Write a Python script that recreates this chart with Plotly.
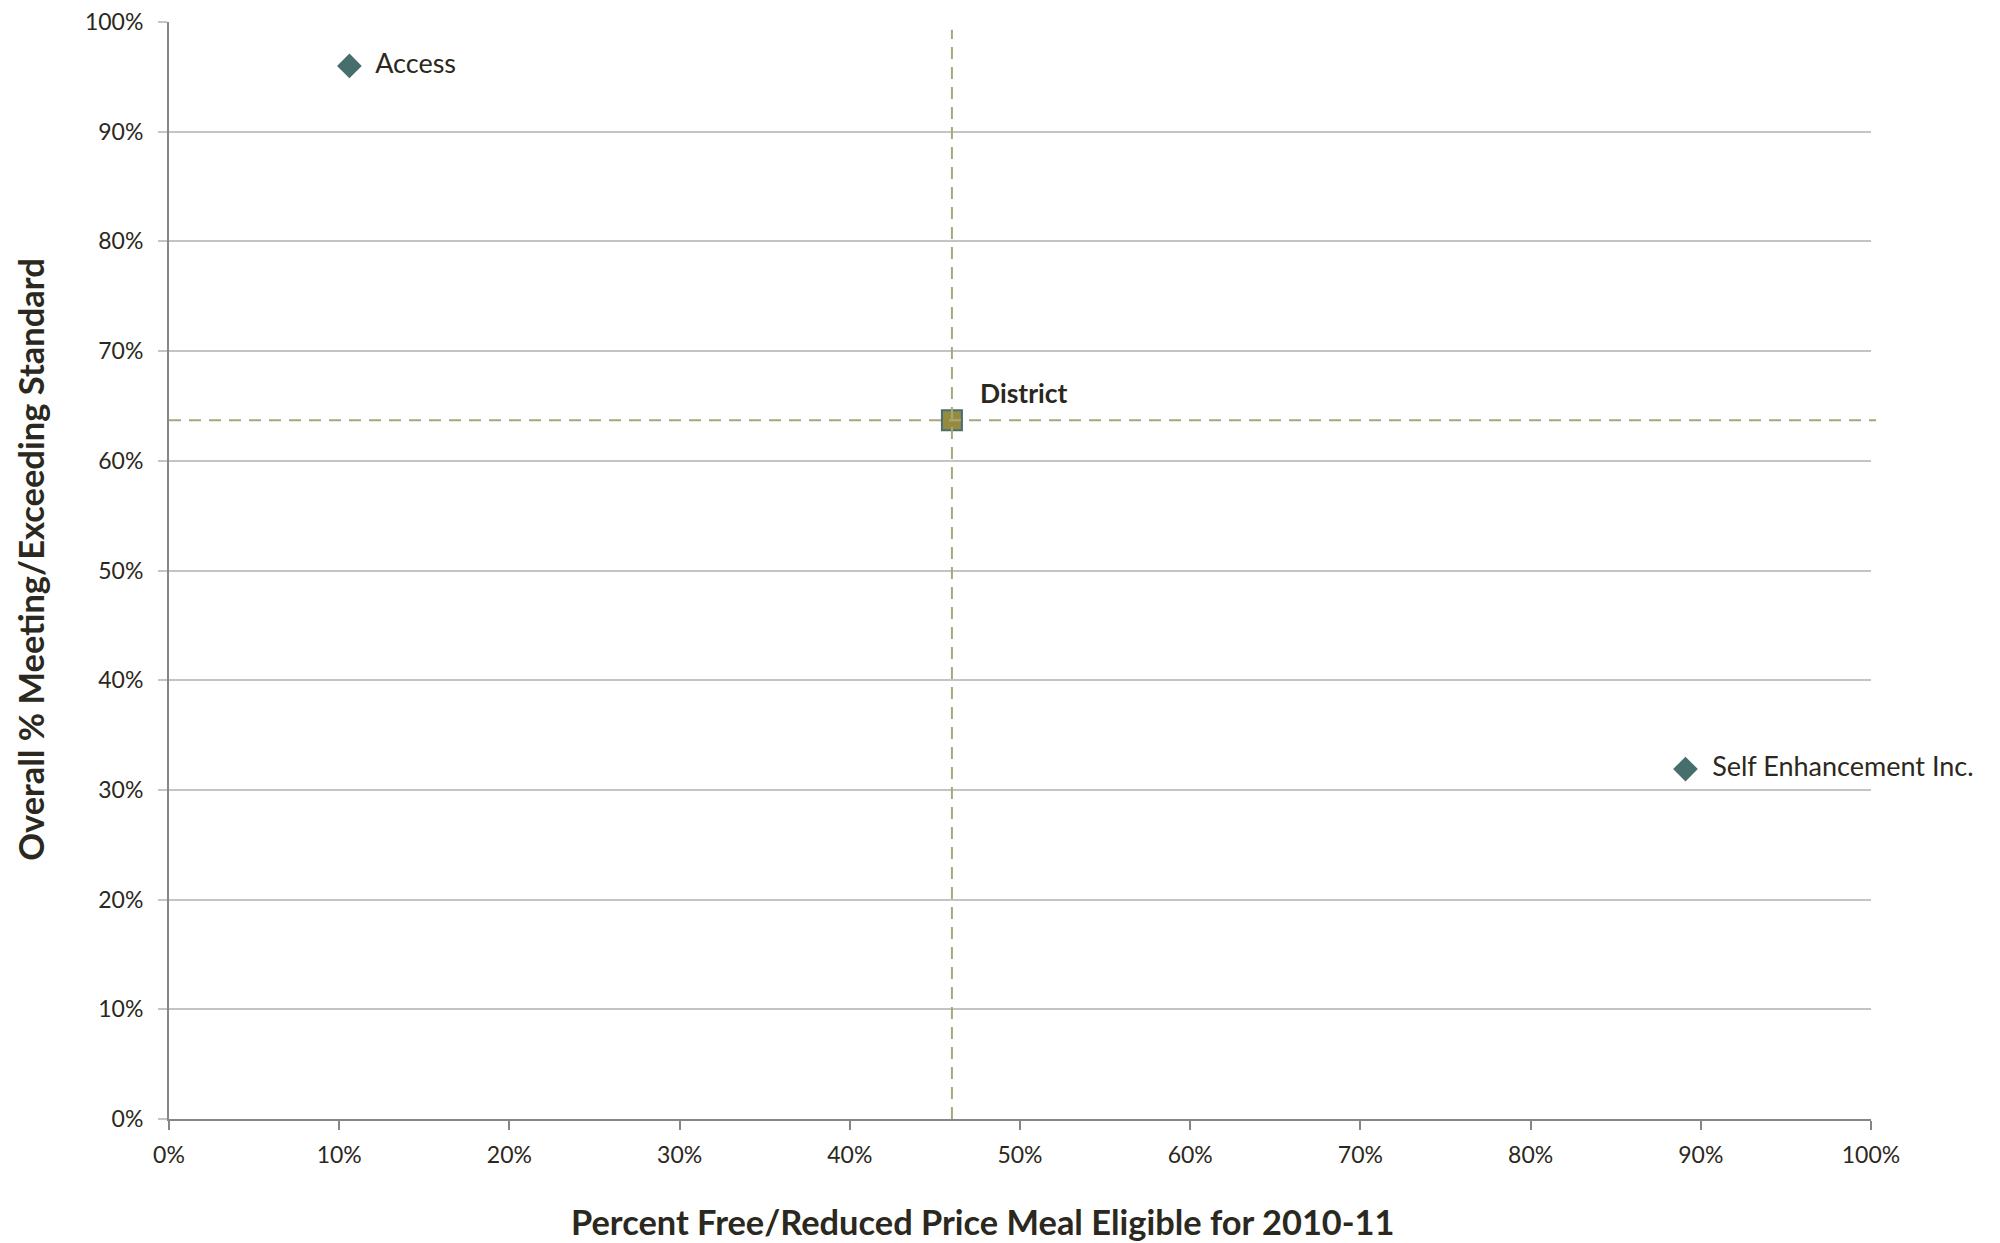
import plotly.graph_objects as go

# Data
school_names = ["Access", "Self Enhancement Inc."]
school_frl = [0.106, 0.891]
school_meet = [0.960, 0.319]

district_name = ["District"]
district_frl = [0.460]
district_meet = [0.637]

x_ticks = [i / 10 for i in range(11)]
y_ticks = [i / 10 for i in range(11)]

x_title = "Percent Free/Reduced Price Meal Eligible for 2010-11"
y_title = "Overall % Meeting/Exceeding Standard"

TEXT = "#2b2820"
FONT = "Lato, 'Open Sans', sans-serif"
DASH = "#aaa67c"

fig = go.Figure()

# reference lines through the district point
fig.add_shape(type="line", xref="x", yref="paper", x0=district_frl[0], x1=district_frl[0],
              y0=0, y1=0.993, line=dict(color=DASH, width=2, dash="12px,8px"), layer="above")
fig.add_shape(type="line", xref="paper", yref="y", x0=0, x1=1.003,
              y0=district_meet[0], y1=district_meet[0],
              line=dict(color=DASH, width=2, dash="12px,8px"), layer="above")

fig.add_trace(go.Scatter(
    x=school_frl, y=school_meet, mode="markers+text",
    text=["  " + n for n in school_names], textposition="middle right",
    textfont=dict(family=FONT, size=27, color=TEXT),
    marker=dict(symbol="diamond", size=19, color="#466e6c"),
    cliponaxis=False, showlegend=False, hoverinfo="skip"))

fig.add_trace(go.Scatter(
    x=district_frl, y=district_meet, mode="markers",
    marker=dict(symbol="square", size=20, color="#948b3e",
                line=dict(color="#4a6e70", width=2)),
    cliponaxis=False, showlegend=False, hoverinfo="skip"))

for nm, xv, yv in zip(district_name, district_frl, district_meet):
    fig.add_annotation(x=xv, y=yv, text="<b>" + nm + "</b>", showarrow=False,
                       xanchor="left", yanchor="bottom", xshift=26, yshift=9,
                       font=dict(family=FONT, size=26.5, color=TEXT))

# axis titles
fig.add_annotation(xref="paper", yref="paper", x=0.478, y=-0.0933,
                   text="<b>" + x_title + "</b>", showarrow=False,
                   xanchor="center", yanchor="middle",
                   font=dict(family=FONT, size=34.4, color=TEXT))
fig.add_annotation(xref="paper", yref="paper", x=-0.0815, y=0.51,
                   text="<b>" + y_title + "</b>", showarrow=False, textangle=-90,
                   xanchor="center", yanchor="middle",
                   font=dict(family=FONT, size=34.5, color=TEXT))

fig.update_layout(
    width=2000, height=1243,
    margin=dict(l=161, r=137, t=14, b=132),
    plot_bgcolor="white", paper_bgcolor="white",
    font=dict(family=FONT, size=23, color=TEXT),
    xaxis=dict(range=[0, 1], tickvals=x_ticks, tickformat=".0%",
               showgrid=False, zeroline=False, automargin=False,
               showline=True, linecolor="#868686", linewidth=2,
               ticks="outside", ticklen=9, tickwidth=2, tickcolor="#868686",
               ticklabelstandoff=5, ticklabeloverflow="allow",
               tickfont=dict(family=FONT, size=23, color=TEXT)),
    yaxis=dict(range=[0, 1], tickvals=y_ticks, tickformat=".0%",
               showgrid=True, gridcolor="#c4c4c4", gridwidth=2, zeroline=False,
               automargin=False,
               showline=True, linecolor="#868686", linewidth=2,
               ticks="outside", ticklen=9, tickwidth=2, tickcolor="#c4c4c4",
               ticklabelstandoff=10, ticklabeloverflow="allow",
               tickfont=dict(family=FONT, size=23, color=TEXT)),
)

fig.write_html("out.html")
